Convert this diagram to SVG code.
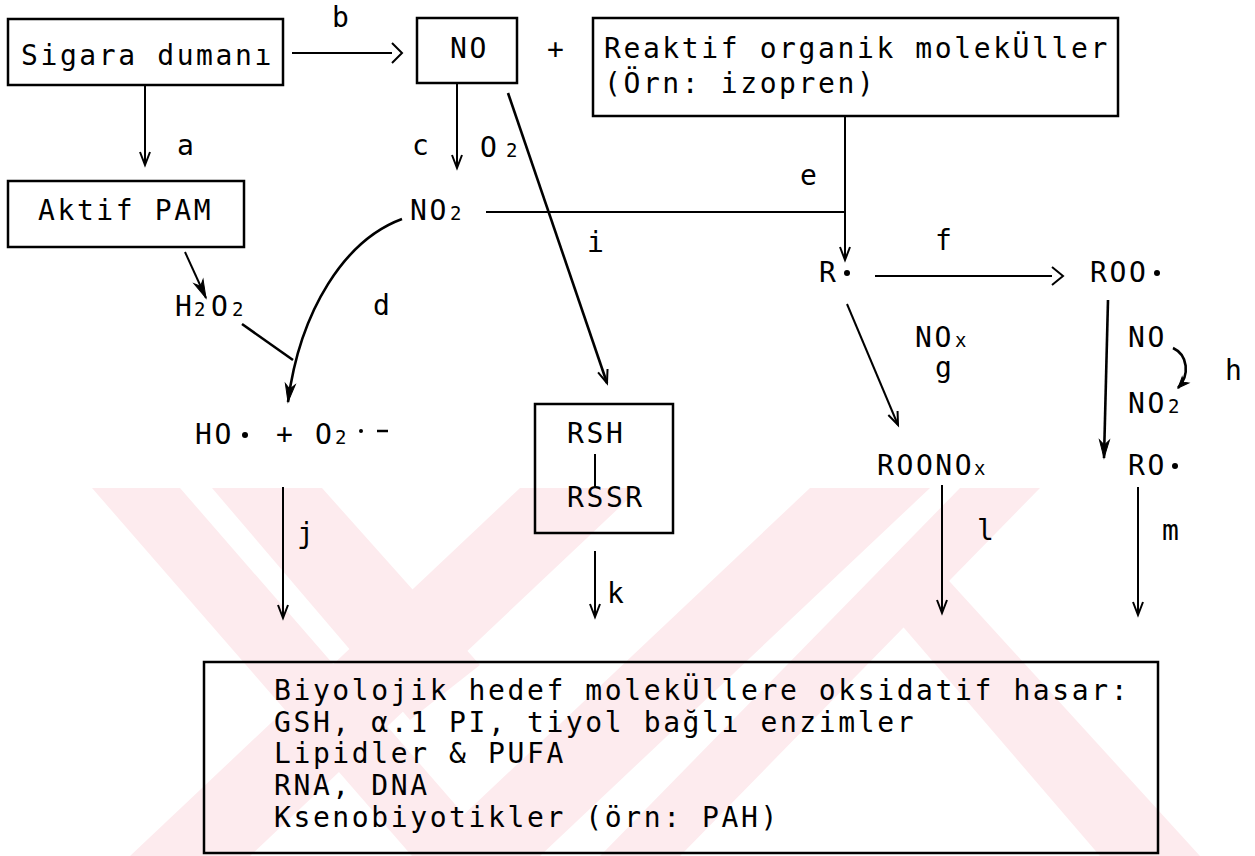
<svg xmlns="http://www.w3.org/2000/svg" width="1255" height="856" viewBox="0 0 1255 856">
<style>
  .t { font-family: "DejaVu Sans Mono", "Liberation Mono", monospace; font-size: 28px; letter-spacing: 2.6px; fill: #000; }
  .s { font-size: 19px; letter-spacing: 0; }
  .box { fill: none; stroke: #000; stroke-width: 2.5; }
  .ln { fill: none; stroke: #000; stroke-width: 2; }
  .bold { stroke-width: 2.6; }
  .wm { fill: #fdebee; }
</style>
<defs>
  <marker id="v" markerUnits="userSpaceOnUse" markerWidth="20" markerHeight="20" refX="0" refY="0" orient="auto" overflow="visible">
    <path d="M-13,-5 L0,0 L-13,5" fill="none" stroke="#000" stroke-width="2"/>
  </marker>
  <marker id="vf" markerUnits="userSpaceOnUse" markerWidth="24" markerHeight="24" refX="0" refY="0" orient="auto" overflow="visible">
    <path d="M-18,-5 L0,0 L-18,5 L-13,0 Z" fill="#000" stroke="#000" stroke-width="1"/>
  </marker>
  <marker id="vs" markerUnits="userSpaceOnUse" markerWidth="20" markerHeight="20" refX="0" refY="0" orient="auto" overflow="visible">
    <path d="M-11,-4.5 L0,0 L-11,4.5 L-8,0 Z" fill="#000" stroke="#000" stroke-width="1"/>
  </marker>
  <clipPath id="wmclip"><rect x="0" y="488" width="1255" height="368"/></clipPath>
</defs>
<rect x="0" y="0" width="1255" height="856" fill="#fff"/>

<g id="watermark" clip-path="url(#wmclip)">
  <polygon class="wm" points="92,488 180,488 500,856 412,856"/>
  <polygon class="wm" points="212,488 322,488 480,665 410,720"/>
  <polygon class="wm" points="130,856 250,856 640,488 520,488"/>
  <polygon class="wm" points="420,856 540,856 930,488 810,488"/>
  <polygon class="wm" points="600,856 680,856 1040,488 960,488"/>
  <polygon class="wm" points="880,600 930,560 1200,856 1100,856"/>
</g>

<g id="connectors">
  <line class="ln" x1="292" y1="53" x2="392" y2="53"/>
  <polyline class="ln" points="392,43 402,53 392,63"/>
  <line class="ln" x1="145" y1="85" x2="145" y2="165" marker-end="url(#v)"/>
  <line class="ln" x1="185" y1="252" x2="206" y2="298" marker-end="url(#vf)"/>
  <line class="ln" x1="457" y1="83" x2="457" y2="168" marker-end="url(#v)"/>
  <line class="ln bold" x1="508" y1="93" x2="607" y2="383" marker-end="url(#v)"/>
  <line class="ln" x1="486" y1="212" x2="845" y2="212"/>
  <line class="ln" x1="845" y1="116" x2="845" y2="260" marker-end="url(#v)"/>
  <line class="ln" x1="875" y1="276" x2="1052" y2="276"/>
  <polyline class="ln" points="1052,267 1063,276 1052,285"/>
  <path class="ln bold" d="M402,219 C345,240 300,310 288,402" marker-end="url(#vf)"/>
  <line class="ln bold" x1="242" y1="324" x2="293" y2="360"/>
  <line class="ln" x1="847" y1="304" x2="898" y2="425" marker-end="url(#v)"/>
  <line class="ln bold" x1="1108" y1="300" x2="1104" y2="458" marker-end="url(#vf)"/>
  <path class="ln bold" d="M1173,348 C1188,355 1190,375 1178,388" marker-end="url(#vs)"/>
  <line class="ln" x1="595" y1="454" x2="595" y2="487"/>
  <line class="ln" x1="283" y1="487" x2="283" y2="618" marker-end="url(#v)"/>
  <line class="ln" x1="595" y1="551" x2="595" y2="617" marker-end="url(#v)"/>
  <line class="ln" x1="942" y1="485" x2="942" y2="613" marker-end="url(#v)"/>
  <line class="ln" x1="1138" y1="487" x2="1138" y2="615" marker-end="url(#v)"/>
</g>

<g id="labels">
  <text class="t" x="332" y="27">b</text>
  <text class="t" x="547" y="59">+</text>
  <text class="t" x="177" y="155">a</text>
  <text class="t" x="412" y="155">c</text>
  <text class="t" x="480" y="157">O<tspan class="s" x="506">2</tspan></text>
  <text class="t" x="800" y="185">e</text>
  <text class="t" x="587" y="252">i</text>
  <text class="t" x="935" y="250">f</text>
  <text class="t" x="373" y="315">d</text>
  <text class="t" x="915" y="347">NO<tspan class="s" x="955">x</tspan></text>
  <text class="t" x="935" y="377">g</text>
  <text class="t" x="1225" y="380">h</text>
  <text class="t" x="1128" y="347">NO</text>
  <text class="t" x="1128" y="413">NO<tspan class="s" x="1168">2</tspan></text>
  <text class="t" x="297" y="543">j</text>
  <text class="t" x="607" y="603">k</text>
  <text class="t" x="977" y="540">l</text>
  <text class="t" x="1162" y="540">m</text>
</g>

<g id="n-sigara">
  <rect class="box" x="8" y="19" width="275" height="66"/>
  <text class="t" x="21" y="65">Sigara dumanı</text>
</g>
<g id="n-no">
  <rect class="box" x="417" y="18" width="100" height="65"/>
  <text class="t" x="450" y="58">NO</text>
</g>
<g id="n-reaktif">
  <rect class="box" x="593" y="18" width="525" height="98"/>
  <text class="t" x="604" y="58">Reaktif organik molekÜller</text>
  <text class="t" x="604" y="93">(Örn: izopren)</text>
</g>
<g id="n-pam">
  <rect class="box" x="8" y="181" width="236" height="66"/>
  <text class="t" x="38" y="220">Aktif PAM</text>
</g>
<g id="n-no2">
  <text class="t" x="410" y="220">NO<tspan class="s" x="450">2</tspan></text>
</g>
<g id="n-h2o2">
  <text class="t" x="175" y="316">H<tspan class="s" x="194">2</tspan><tspan x="211">O</tspan><tspan class="s" x="232">2</tspan></text>
</g>
<g id="n-r">
  <text class="t" x="819" y="282">R</text>
  <circle cx="847" cy="273" r="3" fill="#000"/>
</g>
<g id="n-roo">
  <text class="t" x="1090" y="282">ROO</text>
  <circle cx="1157" cy="273" r="3" fill="#000"/>
</g>
<g id="n-ho">
  <text class="t" x="195" y="444">HO</text>
  <circle cx="245" cy="435" r="3" fill="#000"/>
  <text class="t" x="276" y="444">+</text>
  <text class="t" x="315" y="444">O<tspan class="s" x="335">2</tspan></text>
  <circle cx="361" cy="431" r="2" fill="#000"/>
  <line x1="377" y1="431" x2="388" y2="431" stroke="#000" stroke-width="2.5"/>
</g>
<g id="n-rsh">
  <rect class="box" x="535" y="404" width="138" height="129"/>
  <text class="t" x="567" y="443">RSH</text>
  <text class="t" x="567" y="507">RSSR</text>
</g>
<g id="n-roonox">
  <text class="t" x="877" y="475">ROONO<tspan class="s" x="974">x</tspan></text>
</g>
<g id="n-ro">
  <text class="t" x="1128" y="475">RO</text>
  <circle cx="1175" cy="466" r="3" fill="#000"/>
</g>
<g id="n-hedef">
  <rect class="box" x="204" y="662" width="954" height="191"/>
  <text class="t" x="274" y="700">Biyolojik hedef molekÜllere oksidatif hasar:</text>
  <text class="t" x="274" y="732">GSH, α.1 PI, tiyol bağlı enzimler</text>
  <text class="t" x="274" y="763">Lipidler &amp; PUFA</text>
  <text class="t" x="274" y="795">RNA, DNA</text>
  <text class="t" x="274" y="827">Ksenobiyotikler (örn: PAH)</text>
</g>
</svg>
